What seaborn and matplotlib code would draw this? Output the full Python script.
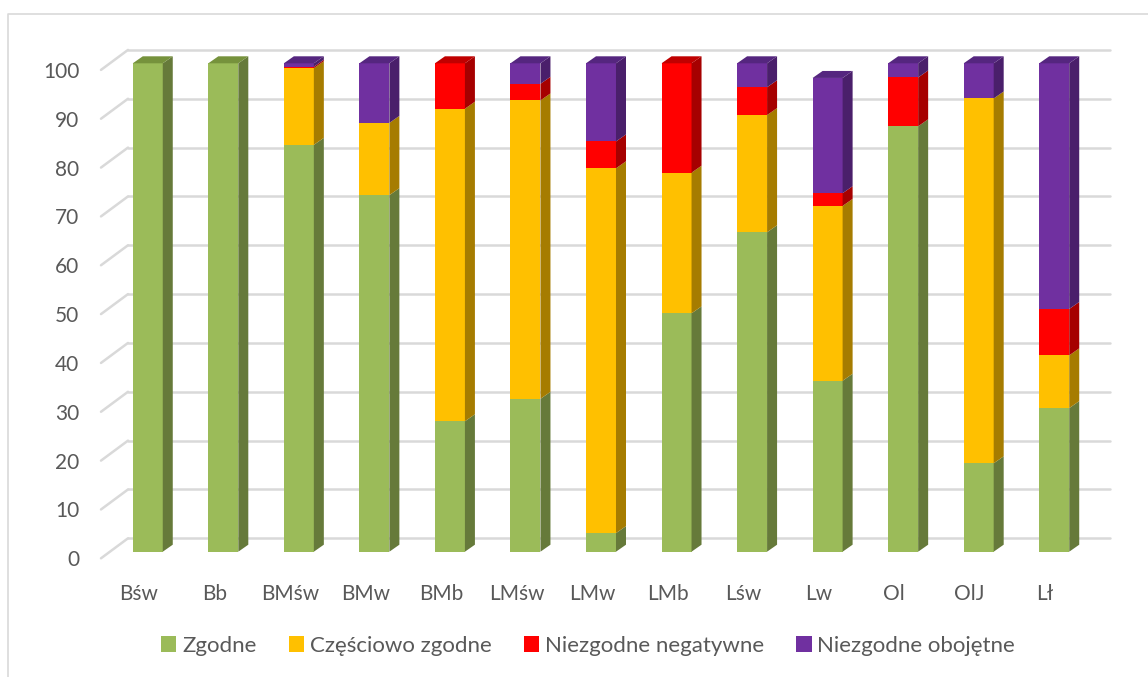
import numpy as np
import pandas as pd
import seaborn as sns
import matplotlib.pyplot as plt
from matplotlib.patches import Polygon, Patch
from matplotlib.lines import Line2D
from matplotlib.transforms import ScaledTranslation

# Categories and shares (%) of each assessment class
categories = ["Bśw", "Bb", "BMśw", "BMw", "BMb", "LMśw", "LMw", "LMb",
              "Lśw", "Lw", "Ol", "OlJ", "Lł"]
zgodne = [100, 100, 83.3, 73.0, 26.7, 31.3, 3.8, 48.8, 65.4, 35.0, 87.1, 18.1, 29.4]
czesciowo = [0, 0, 15.7, 14.8, 64.0, 61.1, 74.7, 28.8, 24.0, 35.8, 0, 74.7, 10.8]
negatywne = [0, 0, 0.3, 0, 9.3, 3.4, 5.5, 22.4, 5.7, 2.6, 10.0, 0, 9.5]
obojetne = [0, 0, 0.7, 12.2, 0, 4.2, 16.0, 0, 4.9, 23.6, 2.9, 7.2, 50.3]

series_names = ["Zgodne", "Częściowo zgodne", "Niezgodne negatywne", "Niezgodne obojętne"]
series_vals = [zgodne, czesciowo, negatywne, obojetne]
face_colors = ["#9BBB59", "#FFC000", "#FF0000", "#7030A0"]
side_colors = ["#667A3A", "#A67C00", "#A60000", "#4A1F6B"]
top_colors = ["#76923C", "#BF9000", "#C00000", "#55267F"]

yticks = [0, 10, 20, 30, 40, 50, 60, 70, 80, 90, 100]

df = pd.DataFrame({"kategoria": categories})
for name, vals in zip(series_names, series_vals):
    df[name] = vals
cum = df[series_names].cumsum(axis=1)

sns.set_theme(style="white")
plt.rcParams["font.family"] = ["Lato", "DejaVu Sans"]
text_color = "#595959"
grid_color = "#D9D9D9"

W, H, DPI = 1148, 677, 100
fig = plt.figure(figsize=(W / DPI, H / DPI), dpi=DPI)
ax = fig.add_axes([110 / W, 1 - 551.7 / H, 982 / W, 488.4 / H])
ax.patch.set_alpha(0)

n = len(categories)
bar_w = 0.397
# pseudo-3D geometry in data units
px_x = 982 / 13.0
px_y = 488.4 / 100.0
side_dx, side_dy = 10 / px_x, 7 / px_y
back_dx, back_dy = 18 / px_x, 13.4 / px_y
front_dx, front_dy = -9 / px_x, -6.6 / px_y

# stacked front faces: cumulative totals drawn from the top series down
for k in range(len(series_names) - 1, -1, -1):
    sns.barplot(data=df, x="kategoria", y=cum[series_names[k]], color=face_colors[k],
                saturation=1, width=bar_w, ax=ax, zorder=2, linewidth=0)

ax.set_xlim(-0.5, n - 0.5)
ax.set_ylim(0, 100)

# back wall gridlines and side wall diagonals
for v in yticks:
    ax.plot([-0.5 + back_dx, n - 0.5 + back_dx], [v + back_dy, v + back_dy],
            color=grid_color, lw=1.8, zorder=0, clip_on=False)
    ax.plot([-0.5 + front_dx, -0.5 + back_dx], [v + front_dy, v + back_dy],
            color=grid_color, lw=1.8, zorder=0, clip_on=False)

# side and top faces of every stacked segment
for i in range(n):
    x1 = i + bar_w / 2
    x0 = i - bar_w / 2
    bottom = 0.0
    top_k = None
    for k, vals in enumerate(series_vals):
        v = vals[i]
        if v <= 0:
            continue
        y0, y1 = bottom, bottom + v
        side = Polygon([(x1, y0), (x1 + side_dx, y0 + side_dy),
                        (x1 + side_dx, y1 + side_dy), (x1, y1)],
                       closed=True, facecolor=side_colors[k], edgecolor="none",
                       zorder=2, clip_on=False)
        ax.add_patch(side)
        bottom = y1
        top_k = k
    if top_k is not None:
        top = Polygon([(x0, bottom), (x0 + side_dx, bottom + side_dy),
                       (x1 + side_dx, bottom + side_dy), (x1, bottom)],
                      closed=True, facecolor=top_colors[top_k], edgecolor="none",
                      zorder=2, clip_on=False)
        ax.add_patch(top)

for s in ax.spines.values():
    s.set_visible(False)
ax.grid(False)
ax.set_xlabel("")
ax.set_ylabel("")
ax.set_yticks(yticks)
ax.set_yticklabels([str(v) for v in yticks])
ax.set_xticks(range(n))
ax.set_xticklabels(categories)
ax.tick_params(axis="both", length=0, labelsize=15, labelcolor=text_color)
ax.tick_params(axis="y", pad=22)
ax.tick_params(axis="x", pad=23)

# tick labels sit on the front edge of the floor
yshift = ScaledTranslation(0, -6.6 / DPI, fig.dpi_scale_trans)
xshift = ScaledTranslation(-9 / DPI, 0, fig.dpi_scale_trans)
for lab in ax.get_yticklabels():
    lab.set_transform(lab.get_transform() + yshift)
for lab in ax.get_xticklabels():
    lab.set_transform(lab.get_transform() + xshift)

handles = [Patch(facecolor=c, edgecolor="none", label=nm)
           for c, nm in zip(face_colors, series_names)]
leg = fig.legend(handles=handles, loc="center", ncol=4, frameon=False,
                 bbox_to_anchor=(588 / W, 1 - 646 / H), fontsize=16,
                 handlelength=0.7, handleheight=0.7, handletextpad=0.25,
                 columnspacing=1.45)
for t in leg.get_texts():
    t.set_color(text_color)

# chart area border
fig.add_artist(Line2D([8 / W, 8 / W, 1.0], [0.0, 1 - 14 / H, 1 - 14 / H],
                      transform=fig.transFigure, color=grid_color, lw=1.2))

fig.savefig("out.png", dpi=DPI, facecolor="white")
